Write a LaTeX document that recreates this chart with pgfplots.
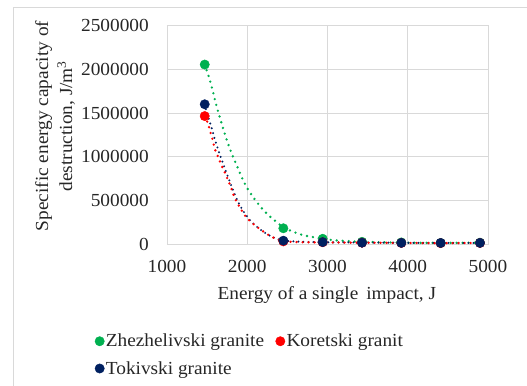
\documentclass[border=0pt]{standalone}
\usepackage{fontspec}
\setmainfont{Liberation Serif}[FakeStretch=1.05]
\usepackage{pgfplots}
\pgfplotsset{compat=1.18}
\definecolor{cgreen}{HTML}{00B050}
\definecolor{cred}{HTML}{FF0000}
\definecolor{cblue}{HTML}{002060}
\definecolor{cgrid}{HTML}{D9D9D9}
\definecolor{ctext}{HTML}{262626}
\begin{document}
\begin{tikzpicture}
\path[use as bounding box] (-167bp,-142bp) rectangle (360bp,244bp);
\draw[cgrid, line width=0.8bp] (-154bp,-142bp) -- (-154bp,237bp) -- (360bp,237bp);
\begin{axis}[
  at={(0,0)}, anchor=south west,
  scale only axis, width=321bp, height=218.3bp,
  xmin=1000, xmax=5000, ymin=0, ymax=2500000,
  xtick={1000,2000,3000,4000,5000},
  ytick={0,500000,1000000,1500000,2000000,2500000},
  scaled ticks=false,
  /pgf/number format/fixed, /pgf/number format/1000 sep={},
  /pgf/number format/assume math mode=true,
  major tick length=0pt,
  grid=major,
  grid style={cgrid, line width=0.8bp},
  axis line style={cgrid, line width=0.8bp},
  font=\fontsize{18.4bp}{24bp}\selectfont,
  every tick label/.append style={text=ctext, inner sep=0pt},
  x tick label style={anchor=center, yshift=-22.7bp},
  y tick label style={anchor=east, xshift=-18bp},
  xlabel={Energy of a single\, impact, J},
  ylabel={Specific energy capacity of\\destruction, J/m\textsuperscript{3}},
  every axis x label/.style={at={(axis description cs:0.498,-0.234)}, anchor=center, text=ctext},
  every axis y label/.style={at={(axis description cs:-0.349,0.54)}, rotate=90, anchor=center, align=center, text=ctext},
  legend columns=2,
  legend cell align=left,
  legend style={draw=none, fill=none, at={(axis description cs:-0.225,-0.405)}, anchor=north west,
    text=ctext, inner sep=0pt, row sep=10bp,
    /tikz/every even column/.append style={column sep=10bp},
    nodes={inner sep=1.5bp}},
  legend image code/.code={\draw[#1] plot coordinates {(4bp,0bp)};},
  clip=false,
]
\addplot[only marks, mark=*, mark size=4.7bp, cgreen, mark options={draw=cgreen, fill=cgreen}]
  coordinates {(1470,2055000) (2450,180000) (2940,60000) (3430,25000) (3920,18000) (4410,12000) (4900,15000)};
\addlegendentry{Zhezhelivski granite}
\addplot[only marks, mark=*, mark size=4.7bp, cred, mark options={draw=cred, fill=cred}]
  coordinates {(1470,1465000) (2450,30000) (2940,20000) (3430,15000) (3920,12000) (4410,10000) (4900,12000)};
\addlegendentry{Koretski granit}
\addplot[only marks, mark=*, mark size=4.7bp, cblue, mark options={draw=cblue, fill=cblue}]
  coordinates {(1470,1600000) (2450,38000) (2940,22000) (3430,15000) (3920,13000) (4410,12000) (4900,13000)};
\addlegendentry{Tokivski granite}
% trend lines
\addplot[forget plot, cgreen, smooth, line width=2.6bp, line cap=round, dash pattern=on 0bp off 6bp]
  coordinates {(1470,2055000) (1523,1909000) (1568,1763000) (1606,1618000) (1652,1469000) (1698,1328000) (1748,1183000) (1805,1038000) (1867,905000) (1930,767000) (2004,633000) (2097,507000) (2196,393000) (2308,294000) (2366,252000) (2450,190000) (2561,145000) (2702,100000) (2940,60000) (3100,42000) (3430,25000) (3920,16000) (4410,12000) (4900,15000)};
\addplot[forget plot, cblue, smooth, line width=2.2bp, line cap=round, dash pattern=on 0bp off 5bp]
  coordinates {(1470,1600000) (1500,1490000) (1536,1390000) (1565,1300000) (1593,1210000) (1623,1120000) (1664,1010000) (1700,920000) (1739,820000) (1797,680000) (1855,545000) (1910,440000) (1963,360000) (2042,265000) (2129,190000) (2225,125000) (2328,75000) (2416,45000) (2450,38000) (2700,25000) (3000,20000) (3430,17000) (3920,14000) (4410,12000) (4900,12000)};
\addplot[forget plot, cred, smooth, line width=2.6bp, line cap=round, dash pattern=on 0bp off 6bp]
  coordinates {(1470,1465000) (1502,1400000) (1527,1328000) (1548,1256000) (1573,1183000) (1589,1107000) (1618,1038000) (1652,965000) (1681,897000) (1718,824000) (1751,752000) (1793,660000) (1830,560000) (1872,477000) (1910,416000) (1951,355000) (1997,294000) (2063,240000) (2113,200000) (2179,157000) (2241,118000) (2312,78000) (2383,52000) (2450,30000) (2700,20000) (3000,18000) (3430,15000) (3920,12000) (4410,10000) (4900,12000)};
\end{axis}
\end{tikzpicture}
\end{document}
